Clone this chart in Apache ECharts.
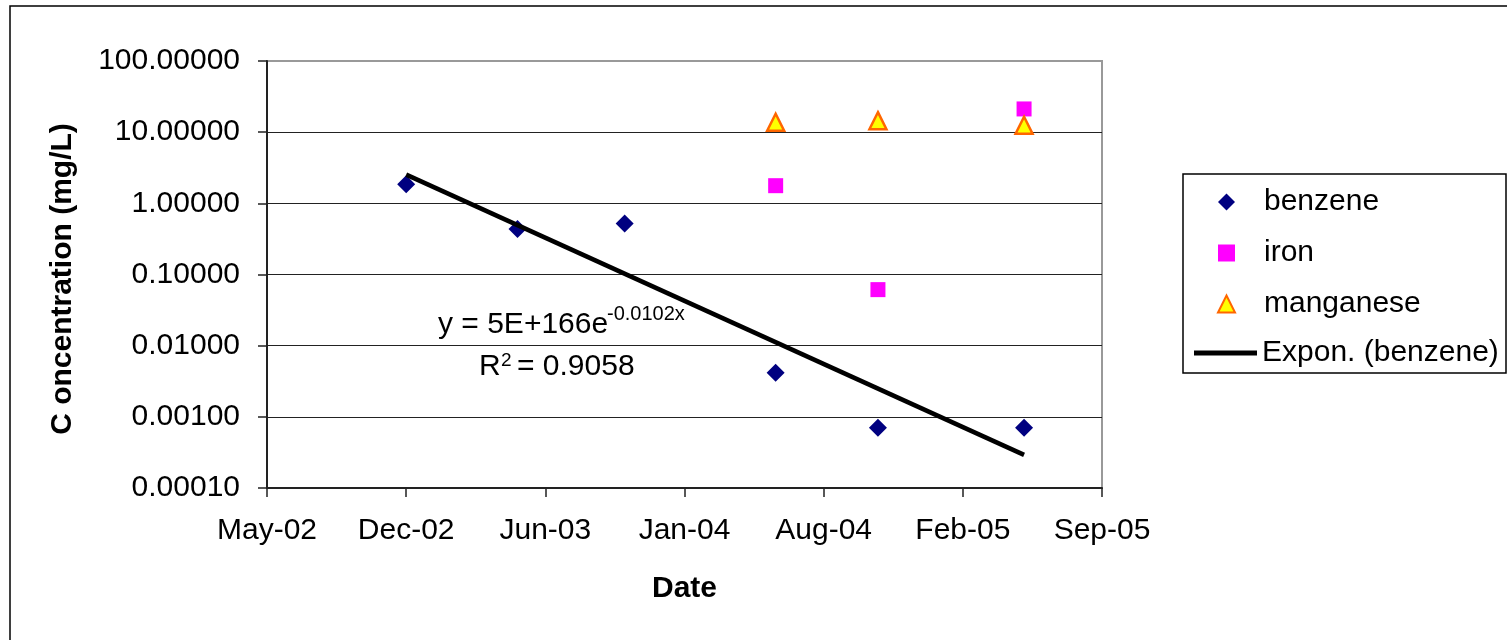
<!DOCTYPE html>
<html><head><meta charset="utf-8">
<script src="https://cdn.jsdelivr.net/npm/echarts@6/dist/echarts.min.js"></script>
<style>html,body{margin:0;padding:0;background:#fff}#c{width:1507px;height:640px}</style>
</head><body><div id="c"></div>
<script>
// ---- data ----
const benzeneDates = ['2002-12-10','2003-05-19','2003-10-20','2004-05-24','2004-10-18','2005-05-16'];
const benzeneValues = [1.85, 0.437, 0.519, 0.00418, 0.000705, 0.0007];
const ironDates = ['2004-05-24','2004-10-18','2005-05-16'];
const ironValues = [1.77, 0.0613, 21.2];
const manganeseDates = ['2004-05-24','2004-10-18','2005-05-16'];
const manganeseValues = [13.8, 14.5, 12.5];
const trendDates = ['2002-12-10','2005-05-16'];
const trendValues = [2.53, 0.000292];
const xTickLabels = ['May-02','Dec-02','Jun-03','Jan-04','Aug-04','Feb-05','Sep-05'];
const yTickLabels = ['0.00010','0.00100','0.01000','0.10000','1.00000','10.00000','100.00000'];
const xMin = 37400, xMax = 38600, xStep = 200;   // Excel day serials
const yMin = 0.0001, yMax = 100;

const FONT = 'Liberation Sans, Arial, sans-serif';
function toSerial(s){const [y,m,d]=s.split('-').map(Number);return (Date.UTC(y,m-1,d)-Date.UTC(1899,11,30))/86400000;}
function pairs(ds,vs){return ds.map((d,i)=>[toSerial(d),vs[i]]);}

const chart = echarts.init(document.getElementById('c'), null, {renderer:'canvas'});
chart.setOption({
  backgroundColor:'#fff',
  animation:false,
  grid:{left:267,right:405,top:61,bottom:152,show:true,borderColor:'#999',borderWidth:2,backgroundColor:'#fff'},
  xAxis:{
    type:'value',min:xMin,max:xMax,interval:xStep,
    name:'Date',nameLocation:'middle',nameGap:86,
    nameTextStyle:{fontFamily:FONT,fontSize:30,fontWeight:'bold',color:'#000'},
    axisLine:{lineStyle:{color:'#222',width:2}},
    axisTick:{show:true,inside:false,length:9,lineStyle:{color:'#222',width:1.5}},
    axisLabel:{margin:28,fontFamily:FONT,fontSize:30,color:'#000',
      formatter:v=>xTickLabels[Math.round((v-xMin)/xStep)]||''},
    splitLine:{show:false}
  },
  yAxis:{
    type:'log',logBase:10,min:yMin,max:yMax,interval:1,
    axisLine:{lineStyle:{color:'#222',width:2}},
    axisTick:{show:true,inside:false,length:9,lineStyle:{color:'#222',width:1.5}},
    axisLabel:{margin:27,fontFamily:FONT,fontSize:30,color:'#000',
      formatter:v=>yTickLabels[Math.round(Math.log10(v))+4]||''},
    splitLine:{show:true,showMinLine:false,showMaxLine:false,lineStyle:{color:'#222',width:1.2}}
  },
  legend:[{
    orient:'vertical',left:1212,top:182,itemWidth:17,itemHeight:17,itemGap:21,
    textStyle:{fontFamily:FONT,fontSize:30,color:'#000',lineHeight:30,padding:[0,0,0,24]},
    data:['benzene','iron','manganese']
  },{
    orient:'vertical',left:1189,top:333,itemWidth:63,itemHeight:5,
    textStyle:{fontFamily:FONT,fontSize:30,color:'#000',lineHeight:30},
    data:[{name:'Expon. (benzene)',icon:'rect',itemStyle:{color:'#000'}}]
  }],
  graphic:[
    {type:'rect',shape:{x:10,y:6,width:1700,height:800},style:{fill:'none',stroke:'#000',lineWidth:1.5},silent:true},
    {type:'rect',shape:{x:1183,y:174,width:323,height:199},style:{fill:'none',stroke:'#000',lineWidth:1.5},silent:true,z:10},
    {type:'text',x:63,y:279,rotation:Math.PI/2,style:{text:'C oncentration (mg/L)',fontFamily:FONT,fontSize:30,fontWeight:'bold',fill:'#000',align:'center',verticalAlign:'middle'}},
    {type:'text',x:438,y:325,style:{text:'y = 5E+166e',fontFamily:FONT,fontSize:30,fill:'#000',verticalAlign:'middle'}},
    {type:'text',x:607,y:314,style:{text:'-0.0102x',fontFamily:FONT,fontSize:20,fill:'#000',verticalAlign:'middle'}},
    {type:'text',x:479,y:367,style:{text:'R',fontFamily:FONT,fontSize:30,fill:'#000',verticalAlign:'middle'}},
    {type:'text',x:501,y:361,style:{text:'2',fontFamily:FONT,fontSize:19,fill:'#000',verticalAlign:'middle'}},
    {type:'text',x:517,y:367,style:{text:'= 0.9058',fontFamily:FONT,fontSize:30,fill:'#000',verticalAlign:'middle'}}
  ],
  series:[
    {name:'benzene',type:'scatter',symbol:'diamond',symbolSize:18,z:3,
      itemStyle:{color:'#000080',opacity:1},data:pairs(benzeneDates,benzeneValues)},
    {name:'iron',type:'scatter',symbol:'rect',symbolSize:15,z:3,
      itemStyle:{color:'#ff00ff',opacity:1},data:pairs(ironDates,ironValues)},
    {name:'manganese',type:'scatter',symbol:'triangle',symbolSize:17,z:3,
      itemStyle:{color:'#ffff00',borderColor:'#ff6600',borderWidth:2.5,opacity:1},data:pairs(manganeseDates,manganeseValues)},
    {name:'Expon. (benzene)',type:'line',symbol:'none',showSymbol:false,z:4,
      lineStyle:{color:'#000',width:4.5},itemStyle:{color:'#000'},data:pairs(trendDates,trendValues)}
  ]
});
</script></body></html>
